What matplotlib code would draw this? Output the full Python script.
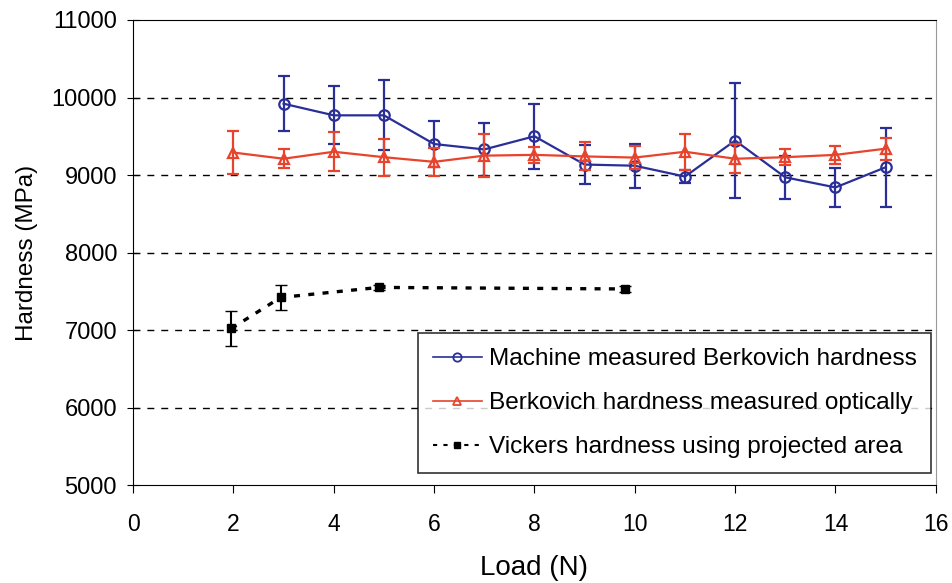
import matplotlib.pyplot as plt
from matplotlib.lines import Line2D

plt.rcParams["font.family"] = ["Liberation Sans", "DejaVu Sans"]

# Machine measured Berkovich hardness
load_m = [3, 4, 5, 6, 7, 8, 9, 10, 11, 12, 13, 14, 15]
hard_m = [9920, 9770, 9770, 9400, 9330, 9500, 9135, 9120, 8980, 9445, 8970, 8840, 9100]
err_m = [355, 375, 450, 300, 340, 420, 250, 285, 80, 740, 280, 250, 510]

# Berkovich hardness measured optically
load_o = [2, 3, 4, 5, 6, 7, 8, 9, 10, 11, 12, 13, 14, 15]
hard_o = [9290, 9210, 9300, 9230, 9170, 9250, 9260, 9240, 9225, 9300, 9210, 9230, 9260, 9340]
err_o = [280, 120, 250, 240, 180, 280, 100, 180, 150, 230, 190, 100, 120, 140]

# Vickers hardness using projected area
load_v = [1.96, 2.94, 4.9, 9.8]
hard_v = [7020, 7420, 7550, 7530]
err_v = [230, 160, 30, 40]

blue = "#2a2f98"
red = "#e8432c"

fig = plt.figure(figsize=(9.53, 5.83), dpi=100)
ax = fig.add_axes([0.1396, 0.168, 0.8424, 0.7977])

for y in [6000, 7000, 8000, 9000, 10000]:
    ax.axhline(y, color="black", lw=1, ls=(0, (5, 5)), zorder=0)

ax.errorbar(load_m, hard_m, yerr=err_m, color=blue, lw=1.6, marker="o",
            ms=7.5, mfc="none", mec=blue, mew=1.6, capsize=4, elinewidth=1.6, zorder=3)
ax.errorbar(load_o, hard_o, yerr=err_o, color=red, lw=1.6, marker="^",
            ms=7.5, mfc="none", mec=red, mew=1.6, capsize=4, elinewidth=1.6, zorder=4)
ax.errorbar(load_v, hard_v, yerr=err_v, color="black", lw=2.4, ls=(0, (1.8, 2.5)),
            marker="s", ms=6, mfc="black", capsize=4, elinewidth=1.5, zorder=5)

ax.set_xlim(0, 16)
ax.set_ylim(5000, 11000)
ax.set_xticks(range(0, 17, 2))
ax.set_yticks(range(5000, 11001, 1000))
ax.tick_params(axis="x", labelsize=16.5, direction="out", length=6, pad=14)
ax.tick_params(axis="y", labelsize=17, direction="inout", length=9, pad=7)
ax.set_xlabel("Load (N)", fontsize=20, labelpad=14)
ax.set_ylabel("Hardness (MPa)", fontsize=17.5, labelpad=10)
for s in ax.spines.values():
    s.set_color("black")
ax.spines["right"].set_color("#999999")

handles = [
    Line2D([], [], color=blue, lw=1.2, marker="o", ms=6, mfc="none", mew=1.3),
    Line2D([], [], color=red, lw=1.2, marker="^", ms=6, mfc="none", mew=1.3),
    Line2D([], [], color="black", lw=1.5, ls=(0, (2, 3)), marker="s", ms=4),
]
labels = ["Machine measured Berkovich hardness",
          "Berkovich hardness measured optically",
          "Vickers hardness using projected area"]
leg = ax.legend(handles, labels, loc="lower left", bbox_to_anchor=(0.355, 0.026),
                fontsize=17.6, frameon=True, fancybox=False, edgecolor="black",
                handlelength=2.0, handletextpad=0.3, labelspacing=0.9,
                borderpad=0.6, borderaxespad=0.0)
leg.get_frame().set_linewidth(1.2)

fig.savefig("out.png", dpi=100)
